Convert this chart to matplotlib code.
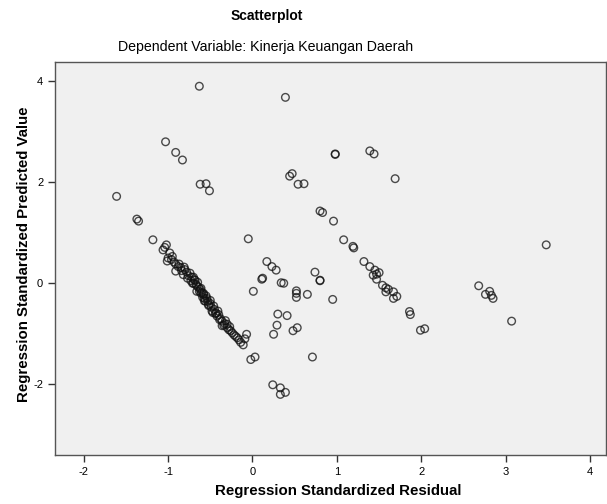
import matplotlib.pyplot as plt

plt.rcParams['font.family'] = ['Liberation Sans', 'DejaVu Sans']
plt.rcParams['axes.unicode_minus'] = False

# points off the main diagonal band
resid_other = [-1.61, -1.37, -1.35, -1.18, -1.03, -0.91, -0.83, -0.63, -0.62, -0.55,
               -0.51, -0.05, -0.02, 0.03, 0.01, 0.11, 0.12, 0.17, 0.23, 0.28,
               0.34, 0.37, 0.39, 0.44, 0.47, 0.54, 0.61, 0.52, 0.52, 0.52,
               0.65, 0.30, 0.41, 0.29, 0.25, 0.48, 0.53, 0.71, 0.24, 0.33,
               0.39, 0.33, 0.74, 0.80, 0.80, 0.95, 0.98, 0.98, 1.39, 1.44,
               1.69, 0.80, 0.83, 0.96, 1.08, 1.19, 1.20, 1.32, 1.39, 1.45,
               1.50, 1.43, 1.47, 1.47, 1.54, 1.58, 1.61, 1.58, 1.67, 1.67,
               1.71, 1.86, 1.87, 1.99, 2.04, 2.68, 2.76, 2.81, 2.83, 2.85,
               3.07, 3.48]
pred_other = [1.72, 1.27, 1.23, 0.86, 2.80, 2.59, 2.44, 3.90, 1.96, 1.97,
              1.83, 0.88, -1.51, -1.46, -0.16, 0.08, 0.10, 0.43, 0.33, 0.26,
              0.01, 0.00, 3.68, 2.12, 2.17, 1.96, 1.97, -0.15, -0.20, -0.28,
              -0.22, -0.61, -0.64, -0.83, -1.01, -0.94, -0.88, -1.46, -2.01, -2.07,
              -2.16, -2.20, 0.22, 0.06, 0.05, -0.32, 2.56, 2.55, 2.62, 2.56,
              2.07, 1.43, 1.40, 1.23, 0.86, 0.73, 0.70, 0.43, 0.33, 0.26,
              0.21, 0.16, 0.18, 0.08, -0.04, -0.09, -0.12, -0.17, -0.17, -0.30,
              -0.26, -0.56, -0.62, -0.93, -0.90, -0.05, -0.22, -0.16, -0.24, -0.30,
              -0.75, 0.76]

# dense diagonal band
resid_band = [-1.06, -1.04, -1.02, -1.00, -1.01, -0.98, -0.95, -0.96, -0.93, -0.91,
              -0.91, -0.88, -0.85, -0.84, -0.80, -0.78, -0.76, -0.74, -0.72, -0.70,
              -0.73, -0.70, -0.68, -0.67, -0.66, -0.64, -0.65, -0.62, -0.63, -0.60,
              -0.61, -0.58, -0.59, -0.57, -0.55, -0.56, -0.53, -0.54, -0.52, -0.50,
              -0.49, -0.46, -0.48, -0.45, -0.44, -0.42, -0.40, -0.38, -0.36, -0.36,
              -0.33, -0.30, -0.30, -0.28, -0.26, -0.24, -0.22, -0.18, -0.16, -0.14,
              -0.11, -0.07, -0.09,
              -0.87, -0.82, -0.77, -0.71, -0.66, -0.61, -0.57, -0.52, -0.47, -0.43,
              -0.39, -0.34, -0.27, -0.20, -0.81, -0.69, -0.58, -0.50, -0.41, -0.32]
pred_band = [0.66, 0.71, 0.76, 0.50, 0.44, 0.60, 0.53, 0.47, 0.42, 0.38,
             0.24, 0.33, 0.31, 0.25, 0.27, 0.22, 0.15, 0.20, 0.12, 0.12,
             0.05, 0.00, 0.06, -0.02, -0.05, -0.08, 0.02, -0.12, -0.16, -0.18,
             -0.10, -0.22, -0.28, -0.30, -0.25, -0.35, -0.36, -0.30, -0.42, -0.40,
             -0.47, -0.45, -0.55, -0.52, -0.60, -0.65, -0.62, -0.70, -0.75, -0.84,
             -0.80, -0.81, -0.88, -0.92, -0.94, -0.98, -1.02, -1.08, -1.12, -1.17,
             -1.22, -1.01, -1.10,
             0.38, 0.17, 0.10, 0.00, -0.16, -0.20, -0.35, -0.44, -0.58, -0.59,
             -0.72, -0.83, -0.86, -1.05, 0.32, 0.07, -0.20, -0.34, -0.55, -0.74]

x_ticks = [-2, -1, 0, 1, 2, 3, 4]
y_ticks = [-2, 0, 2, 4]

fig = plt.figure(figsize=(6.07, 5.04), dpi=100)
ax = fig.add_axes([0.0906, 0.0972, 0.9080, 0.7798])
ax.set_facecolor('#f0f0f0')

for xs, ys in [(resid_other, pred_other), (resid_band, pred_band)]:
    ax.scatter(xs, ys, s=30, facecolors='none', edgecolors='#111111',
               linewidths=1.0, alpha=0.75)

ax.set_xlim(-2.34, 4.19)
ax.set_ylim(-3.40, 4.38)
ax.set_xticks(x_ticks)
ax.set_yticks(y_ticks)
ax.tick_params(labelsize=8, length=5, width=1, color='#333333', direction='out')
for sp in ax.spines.values():
    sp.set_color('#555555')
    sp.set_linewidth(1.0)

ax.set_xlabel('Regression Standardized Residual', fontsize=10.8, fontweight='bold', labelpad=6)
ax.xaxis.set_label_coords(0.514, -0.075)
ax.set_ylabel('Regression Standardized Predicted Value', fontsize=10.8, fontweight='bold')
ax.yaxis.set_label_coords(-0.043, 0.51)

fig.text(0.44, 0.968, 'Scatterplot', ha='center', va='center', fontsize=10, fontweight='bold')
fig.text(0.437, 0.907, 'Dependent Variable: Kinerja Keuangan Daerah', ha='center', va='center', fontsize=10.2)

fig.savefig('out.png', dpi=100)
